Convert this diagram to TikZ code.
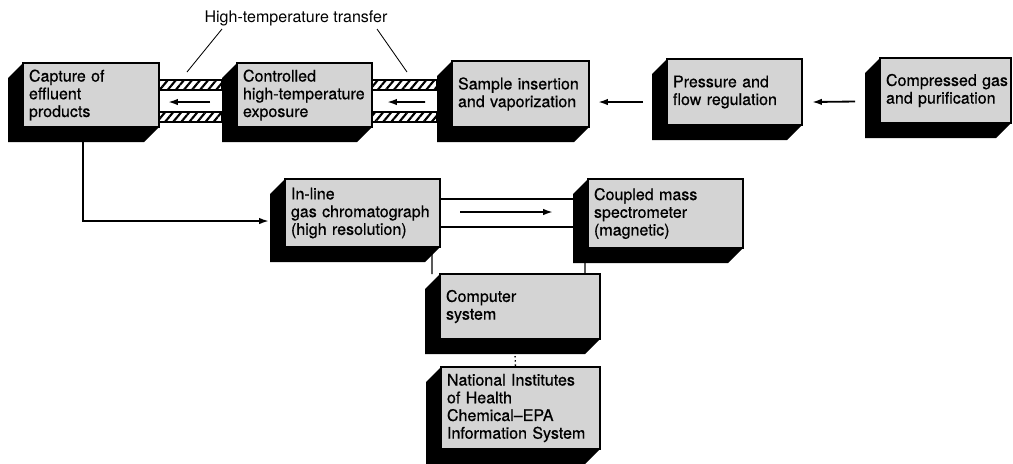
\documentclass[tikz,border=0pt]{standalone}
\usepackage{fontspec}
\setmainfont{TeX Gyre Heros}
\newfontfamily\slabfont[FakeBold=0.6,Ligatures=TeX]{TeX Gyre Heros}
\usetikzlibrary{calc,arrows.meta,patterns.meta}

\begin{document}
\begin{tikzpicture}[x=0.025cm,y=-0.025cm,
    lbl/.style={font=\fontsize{11.4}{12.2}\selectfont},
    slab/.style={font=\slabfont\fontsize{11.4}{12.6}\selectfont, draw, line width=1pt,
        fill=black!17, anchor=north west,
        align=left, inner xsep=0.15cm, inner ysep=0pt, outer sep=0pt},
    pipe/.style={draw, line width=0.9pt,
        pattern={Lines[angle=50,distance=4.4pt,line width=1.5pt]}},
    arr/.style={line width=1.3pt, -{Latex[length=7pt,width=4.6pt]}}]
    \useasboundingbox (0,0) rectangle (1013,463);

    % top row
    \node[slab, text width=3.1cm, minimum height=1.6cm] (cap) at (23,63) {Capture of\\effluent\\products};
    \node[slab, text width=3.075cm, minimum height=1.6cm] (ctl) at (237,63) {Controlled\\high-temperature\\exposure};
    \node[slab, text width=3.125cm, minimum height=1.65cm] (smp) at (452,61) {Sample~insertion\\and~vaporization};
    \node[slab, text width=3.075cm, minimum height=1.65cm] (prs) at (667,59) {Pressure~and\\flow~regulation};
    \node[slab, text width=2.975cm, minimum height=1.625cm] (cmp) at (880,58) {Compressed~gas\\and~purification};

    % lower part
    \node[slab, text width=3.575cm, minimum height=1.7cm] (gc) at (285,179) {In-line\\gas~chromatograph\\(high~resolution)};
    \node[slab, text width=3.575cm, minimum height=1.725cm] (ms) at (588,179) {Coupled~mass\\spectrometer\\(magnetic)};
    \node[slab, text width=3.7cm, minimum height=1.625cm] (comp) at (440,274) {Computer\\system};
    \node[slab, text width=3.675cm, minimum height=2.05cm] (nih) at (441,367) {National~Institutes\\of~Health\\Chemical–EPA\\Information~System};

    % black sides
    \foreach \b in {cap,ctl,smp,prs,cmp,gc,ms,comp,nih}
        \fill (\b.north west) -- ++(-15,15) -- ($(\b.south west)+(-15,15)$)
            -- ($(\b.south east)+(-15,15)$) -- (\b.south east) -- (\b.south west) -- cycle;

    % heated transfer lines
    \path[pipe] ($(cap.north east)+(0,17)$) rectangle ($(ctl.north west)+(-15,27)$);
    \path[pipe] ($(cap.north east)+(0,49)$) rectangle ($(ctl.north west)+(-15,59)$);
    \path[pipe] ($(ctl.north east)+(0,17)$) rectangle ($(smp.north west)+(-15,29)$);
    \path[pipe] ($(ctl.north east)+(0,49)$) rectangle ($(smp.north west)+(-15,61)$);

    \node[lbl, anchor=base] (ttl) at (296,22) {High-temperature transfer};
    \coordinate (lnA) at (187,72);
    \coordinate (lnB) at (407,72);
    \draw[line width=0.6pt] ($(ttl.base)+(-74,7)$) -- (lnA);
    \draw[line width=0.6pt] ($(ttl.base)+(81,7)$) -- (lnB);

    % flow arrows
    \draw[arr] ($(ctl.west)+(-27,7)$) -- ($(cap.east)+(9,7)$);
    \draw[arr] ($(smp.west)+(-27,8)$) -- ($(ctl.east)+(15,7)$);
    \draw[arr] ($(prs.west)+(-24,10)$) -- ($(smp.east)+(9,8)$);
    \draw[arr] ($(cmp.west)+(-25,11)$) -- ($(prs.east)+(10,10)$);
    \draw[arr] ($(cap.south west)+(60,15)$) |- ($(gc.west)+(-16,8)$);

    % gc to ms
    \draw[line width=0.9pt] ($(gc.north east)+(0,20)$) -- ($(ms.north west)+(-15,20)$);
    \draw[line width=0.9pt] ($(gc.north east)+(0,48)$) -- ($(ms.north west)+(-15,48)$);
    \draw[arr] ($(gc.north east)+(20,33)$) -- ($(ms.north west)+(-35,33)$);

    % computer links
    \draw[line width=0.8pt] ($(gc.south east)+(-8,0)$) -- ($(comp.north west)+(-8,0)$);
    \draw[line width=0.8pt] ($(ms.south west)+(-3,0)$) -- ($(comp.north east)+(-15,0)$);
    \draw[line width=1pt, dotted] ($(comp.south)+(-5,17)$) -- ($(nih.north)+(-5,0)$);
\end{tikzpicture}
\end{document}
